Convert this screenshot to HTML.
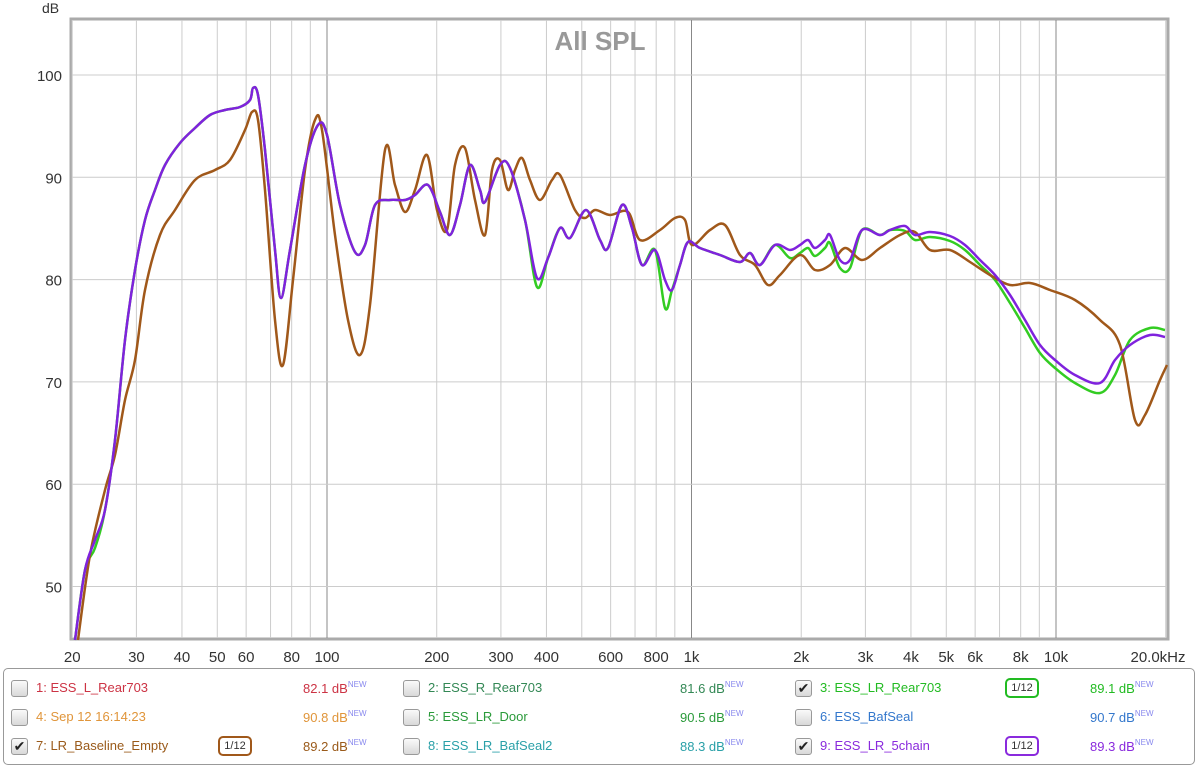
<!DOCTYPE html><html><head><style>
body{margin:0;width:1200px;height:768px;background:#fff;font-family:"Liberation Sans",sans-serif;overflow:hidden;position:relative}
svg{position:absolute;left:0;top:0}
.lg{position:absolute;left:3px;top:668px;width:1190px;height:95px;border:1px solid #999;border-radius:5px;background:#fff}
.it{position:absolute;font-size:13px;white-space:nowrap}
.cb{position:absolute;width:15px;height:15px;border:1px solid #999;border-radius:3px;background:linear-gradient(#fafafa,#d8d8d8);font-size:14px;line-height:14px;text-align:center;color:#222}
.v{position:absolute;font-size:13px;white-space:nowrap}
.v sup{font-size:8px;color:#8888ee;vertical-align:6px}
.bd{position:absolute;width:30px;height:16px;border:2px solid;border-radius:5px;font-size:11px;text-align:center;line-height:16px;color:#333}
</style></head><body>
<svg width="1200" height="668" id="s"></svg>
<div class="lg"></div>
<div id="L"></div>
<script>
var s=document.getElementById('s'),h='';
function X(f){return 327+364.5*Math.log10(f/100)}
function Y(d){return 75+(100-d)*10.23}
var fs=[20,30,40,50,60,70,80,90,100,200,300,400,500,600,700,800,900,1000,2000,3000,4000,5000,6000,7000,8000,9000,10000,20000];
h+='<rect x="71" y="19" width="1097" height="620" fill="#fff" stroke="#aaa" stroke-width="3"/>';
fs.forEach(function(f){var x=X(f),m=(f==100||f==1000||f==10000);h+='<line x1="'+x+'" y1="20" x2="'+x+'" y2="638" stroke="'+(m?'#888':'#ccc')+'" stroke-width="1"/>';});
for(var d=50;d<=100;d+=10){h+='<line x1="72" y1="'+Y(d)+'" x2="1167" y2="'+Y(d)+'" stroke="#ccc"/>';h+='<text x="62" y="'+(Y(d)+6)+'" font-size="15" text-anchor="end" fill="#333">'+d+'</text>';}
h+='<text x="42" y="13" font-size="14" fill="#333">dB</text>';
h+='<text x="600" y="50" font-size="26" font-weight="bold" fill="#999" text-anchor="middle">All SPL</text>';
var tl=[[20,'20'],[30,'30'],[40,'40'],[50,'50'],[60,'60'],[80,'80'],[100,'100'],[200,'200'],[300,'300'],[400,'400'],[600,'600'],[800,'800'],[1000,'1k'],[2000,'2k'],[3000,'3k'],[4000,'4k'],[5000,'5k'],[6000,'6k'],[8000,'8k'],[10000,'10k']];
tl.forEach(function(t){h+='<text x="'+X(t[0])+'" y="662" font-size="15" text-anchor="middle" fill="#333">'+t[1]+'</text>';});
h+='<text x="1158" y="662" font-size="15" text-anchor="middle" fill="#333">20.0kHz</text>';
function path(p,c){var d='M'+p[0][0]+','+p[0][1];for(var i=0;i<p.length-1;i++){var p0=p[i-1]||p[i],p1=p[i],p2=p[i+1],p3=p[i+2]||p2;d+=' C'+(p1[0]+(p2[0]-p0[0])/6)+','+(p1[1]+(p2[1]-p0[1])/6)+' '+(p2[0]-(p3[0]-p1[0])/6)+','+(p2[1]-(p3[1]-p1[1])/6)+' '+p2[0]+','+p2[1];}return '<path d="'+d+'" fill="none" stroke="'+c+'" stroke-width="2.5"/>';}
var P=[[75,640],[85,570],[95,540],[105,510],[115,440],[125,340],[135,270],[145,220],[155,190],[165,165],[180,143],[195,128],[210,115],[225,110],[240,107],[250,100],[253,88],[258,95],[265,150],[275,250],[281,298],[290,250],[305,165],[318,125],[327,135],[340,205],[355,252],[365,245],[375,205],[390,200],[405,200],[415,195],[428,185],[440,212],[450,235],[460,205],[470,165],[480,190],[485,202],[500,165],[510,168],[525,220],[537,278],[548,258],[560,228],[570,238],[586,210],[600,240],[608,248],[622,205],[632,228],[642,265],[655,250],[665,280],[672,290],[680,265],[688,242],[700,248],[720,255],[740,262],[750,253],[760,265],[775,245],[790,250],[800,245],[808,240],[815,248],[825,240],[830,235],[840,260],[850,260],[862,230],[880,235],[890,230],[905,226],[915,235],[930,232],[950,236],[965,245],[980,260],[995,275],[1010,295],[1025,320],[1040,345],[1055,360],[1075,375],[1100,383],[1115,360],[1130,345],[1150,335],[1165,337]];
var G=P.map(function(p){var x=p[0],y=p[1];if(x==537)y=287;if(x==665)y=308;if(x==95)y=548;if(x>=780&&x<=850)y+=8;if(x>=900&&x<=1000)y+=5;if(x>=1010&&x<=1060)y+=8;if(x==1075)y=383;if(x==1100)y=393;if(x==1115)y=375;if(x==1130)y=340;if(x==1150)y=328;if(x==1165)y=330;return [x,y];});
var B=[[78,640],[90,555],[105,490],[115,455],[125,400],[135,360],[145,290],[160,235],[175,210],[195,180],[215,170],[230,160],[245,130],[252,112],[258,120],[265,190],[275,320],[283,365],[293,280],[305,170],[315,120],[322,130],[335,235],[348,320],[360,355],[370,305],[385,150],[395,185],[405,212],[415,190],[427,155],[437,210],[447,230],[455,165],[465,148],[475,200],[485,235],[492,170],[500,160],[508,190],[515,170],[522,158],[530,180],[540,200],[552,180],[560,175],[575,210],[585,218],[595,210],[610,215],[628,212],[640,240],[660,230],[675,218],[685,220],[692,245],[710,230],[725,225],[740,255],[755,265],[768,285],[780,275],[800,255],[815,270],[830,265],[845,248],[862,260],[880,248],[900,235],[915,232],[930,250],[950,250],[970,262],[990,275],[1010,285],[1030,283],[1050,290],[1075,300],[1100,320],[1120,345],[1135,420],[1145,415],[1160,380],[1167,365]];
h+=path(G,'#33cc22')+path(B,'#a0581a')+path(P,'#7f22dd');
s.innerHTML=h;
var rows=[688,717,746],cols=[[11,36,303],[403,428,680],[795,820,1090]];
var items=[['1: ESS_L_Rear703','#cc3344','82.1',0],['2: ESS_R_Rear703','#338855','81.6',0],['3: ESS_LR_Rear703','#22bb22','89.1',1,'#22bb22'],
['4: Sep 12 16:14:23','#e0953a','90.8',0],['5: ESS_LR_Door','#2a9a3a','90.5',0],['6: ESS_BafSeal','#3377cc','90.7',0],
['7: LR_Baseline_Empty','#9a5a1a','89.2',1,'#a0581a'],['8: ESS_LR_BafSeal2','#2aa0a8','88.3',0],['9: ESS_LR_5chain','#8a2add','89.3',1,'#8a2add']];
var o='';items.forEach(function(it,i){var r=rows[Math.floor(i/3)],c=cols[i%3];
o+='<div class="cb" style="left:'+c[0]+'px;top:'+(r-8)+'px">'+(it[3]?'✔':'')+'</div>';
o+='<div class="it" style="left:'+c[1]+'px;top:'+(r-8)+'px;color:'+it[1]+'">'+it[0]+'</div>';
o+='<div class="v" style="left:'+c[2]+'px;top:'+(r-8)+'px;color:'+it[1]+'">'+it[2]+' dB<sup>NEW</sup></div>';
if(it[4])o+='<div class="bd" style="left:'+(c[2]-85)+'px;top:'+(r-10)+'px;border-color:'+it[4]+'">1/12</div>';});
document.getElementById('L').innerHTML=o;
</script></body></html>
